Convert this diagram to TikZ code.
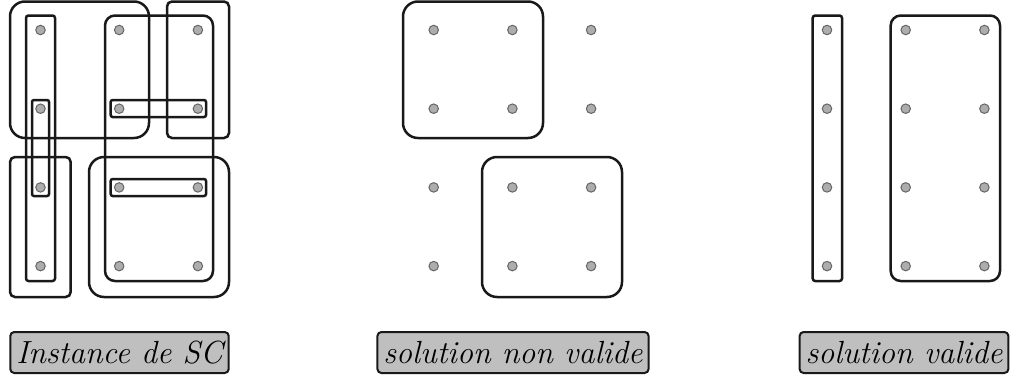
\documentclass[tikz,border=0pt]{standalone}
\begin{document}
\begin{tikzpicture}[x=1pt,y=-1pt,
  dot/.style={circle,draw=black!60,fill=black!32,line width=1pt,minimum size=9.5pt,inner sep=0pt},
  set/.style={draw=black!90,line width=2.5pt},
  lbl/.style={draw=black!90,fill=black!25,line width=2pt,rounded corners=4pt,minimum height=41pt,inner xsep=6pt,font=\fontsize{32}{38}\selectfont\itshape}]
\useasboundingbox (0,0) rectangle (1010,378);
% dots
\foreach \p/\xo in {L/40.5,M/433.7,R/827}{
  \foreach \i in {0,1,2}{
    \foreach \j in {0,1,2,3}{
      \node[dot] (\p\i\j) at ({\xo+78.7*\i},{30+78.7*\j}) {};
    }
  }
}
% left panel sets
\draw[set,rounded corners=15pt] (10,1.5) rectangle (149,138);
\draw[set,rounded corners=2.5pt] (26,15.5) rectangle (55,281);
\draw[set,rounded corners=2pt] (32,100) rectangle (49,196);
\draw[set,rounded corners=5pt] (10,157) rectangle (70.7,297);
\draw[set,rounded corners=5pt] (167,1.5) rectangle (229,138);
\draw[set,rounded corners=10pt] (105,15.5) rectangle (213,281);
\draw[set,rounded corners=2pt] (110.7,100) rectangle (206,117);
\draw[set,rounded corners=2pt] (110.7,179) rectangle (206,196);
\draw[set,rounded corners=15pt] (89,157) rectangle (229,297);
% middle panel sets
\draw[set,rounded corners=15pt] (403,1.5) rectangle (543,138);
\draw[set,rounded corners=15pt] (482,157) rectangle (622,297);
% right panel sets
\draw[set,rounded corners=2.5pt] (812.7,15.5) rectangle (842,281);
\draw[set,rounded corners=10pt] (890.7,15.5) rectangle (1000,281);
% labels
\node[lbl] (t1) at (119.5,352.5) {Instance de SC};
\node[lbl] (t2) at (513,352.5) {solution non valide};
\node[lbl] (t3) at (904,352.5) {solution valide};
\end{tikzpicture}
\end{document}
